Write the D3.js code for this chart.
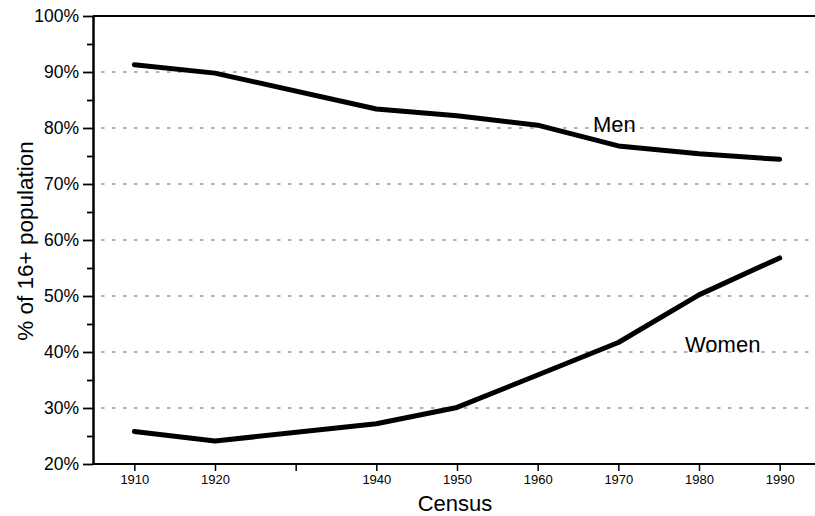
<!DOCTYPE html>
<html>
<head>
<meta charset="utf-8">
<script src="https://cdn.jsdelivr.net/npm/d3@7"></script>
<style>
  body { margin: 0; background: #fff; }
  svg { display: block; font-family: "Liberation Sans", Arial, sans-serif; }
</style>
</head>
<body>
<script>
// data
var years = [1910, 1920, 1940, 1950, 1960, 1970, 1980, 1990];
var men = [91.3, 89.8, 83.4, 82.2, 80.5, 76.8, 75.4, 74.4];
var women = [25.8, 24.1, 27.2, 30.1, 35.9, 41.7, 50.2, 56.8];
var xTicks = [1910, 1920, 1930, 1940, 1950, 1960, 1970, 1980, 1990];
var xTickLabels = ["1910", "1920", "", "1940", "1950", "1960", "1970", "1980", "1990"];
var yTicks = [20, 30, 40, 50, 60, 70, 80, 90, 100];
var yMinorTicks = [25, 35, 45, 55, 65, 75, 85, 95];

var w = 815, h = 516;
// plot edges (note: "top" is a reserved window global, so avoid it)
var plotLeft = 93, plotRight = 815, plotTop = 16, plotBottom = 464;

var svg = d3.select('body')
  .append('svg')
  .attr('width', w)
  .attr('height', h);

// SCALES
var xScale = d3.scaleLinear()
  .domain([1905, 1995])
  .range([94, 820]);

var yScale = d3.scaleLinear()
  .domain([20, 100])
  .range([plotBottom, plotTop]);

// dashed gridlines
svg.append('g')
  .selectAll('line')
  .data(yTicks.filter(d => d > 20 && d < 100))
  .enter()
  .append('line')
    .attr('x1', 101)
    .attr('x2', plotRight)
    .attr('y1', d => yScale(d))
    .attr('y2', d => yScale(d))
    .attr('stroke', '#666')
    .attr('stroke-width', 1.2)
    .attr('stroke-dasharray', '3.5,7.5');

// top border
svg.append('line')
  .attr('x1', plotLeft).attr('x2', plotRight)
  .attr('y1', plotTop).attr('y2', plotTop)
  .attr('stroke', '#000')
  .attr('stroke-width', 1.8);

//AXISES
var yAxis = d3.axisLeft(yScale)
  .tickValues(yTicks)
  .tickSize(10)
  .tickSizeOuter(0)
  .tickPadding(4)
  .tickFormat(d => d + '%');

var gy = svg.append('g')
  .attr('transform', `translate(${plotLeft},0)`)
  .call(yAxis)
  .attr('id', 'y-axis');
gy.select('.domain').attr('stroke-width', 2.5);
gy.selectAll('.tick line').attr('stroke-width', 1.8);
gy.selectAll('text')
  .attr('font-size', '17.5px')
  .attr('font-family', '"Liberation Sans", Arial, sans-serif')
  .attr('fill', '#000');

var yMinor = d3.axisLeft(yScale)
  .tickValues(yMinorTicks)
  .tickSize(6)
  .tickSizeOuter(0)
  .tickFormat('');
var gym = svg.append('g')
  .attr('transform', `translate(${plotLeft},0)`)
  .call(yMinor);
gym.select('.domain').remove();
gym.selectAll('.tick line').attr('stroke-width', 1.8);

var xAxis = d3.axisBottom(xScale)
  .tickValues(xTicks)
  .tickSize(7)
  .tickSizeOuter(0)
  .tickPadding(4)
  .tickFormat((d, i) => xTickLabels[i]);

var gx = svg.append('g')
  .attr('transform', `translate(0,${plotBottom})`)
  .call(xAxis)
  .attr('id', 'x-axis');
gx.select('.domain')
  .attr('d', `M${plotLeft},0H${plotRight}`)
  .attr('stroke-width', 2);
gx.selectAll('.tick line').attr('stroke-width', 1.5);
gx.selectAll('text')
  .attr('font-size', '13px')
  .attr('font-family', '"Liberation Sans", Arial, sans-serif')
  .attr('fill', '#000');

// LINES
var line = d3.line()
  .x((d, i) => xScale(years[i]))
  .y(d => yScale(d));

[men, women].forEach(series => {
  svg.append('path')
    .datum(series)
    .attr('d', line)
    .attr('fill', 'none')
    .attr('stroke', '#000')
    .attr('stroke-width', 5)
    .attr('stroke-linejoin', 'round')
    .attr('stroke-linecap', 'round');
});

// series labels
svg.append('text')
  .attr('x', 593).attr('y', 132)
  .attr('font-size', '22px')
  .text('Men');

svg.append('text')
  .attr('x', 685).attr('y', 352)
  .attr('font-size', '22px')
  .text('Women');

// axis titles
svg.append('text')
  .attr('x', 455).attr('y', 511)
  .attr('text-anchor', 'middle')
  .attr('font-size', '22px')
  .text('Census');

svg.append('text')
  .attr('text-anchor', 'middle')
  .attr('transform', 'translate(33,241)rotate(-90)')
  .attr('font-size', '22.5px')
  .text('% of 16+ population');
</script>
</body>
</html>
